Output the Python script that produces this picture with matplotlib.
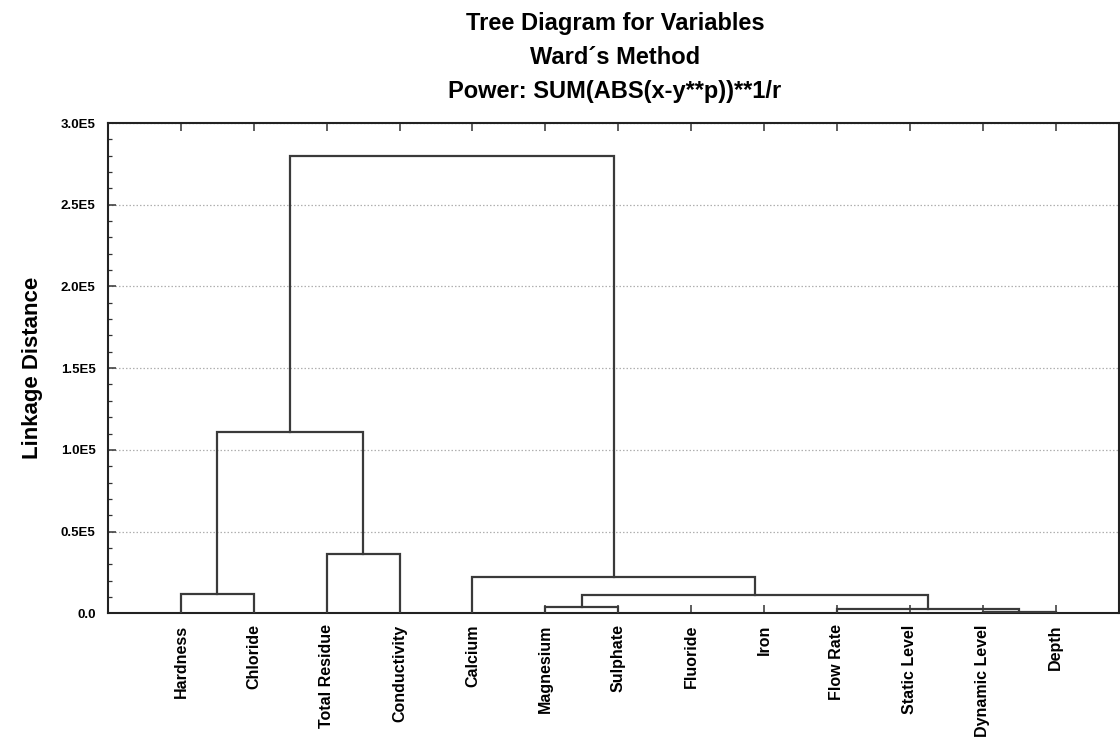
import matplotlib
matplotlib.use("Agg")
import matplotlib.pyplot as plt
from matplotlib.ticker import MultipleLocator, FixedLocator

# ---- data ----
leaves = ["Hardness", "Chloride", "Total Residue", "Conductivity", "Calcium",
          "Magnesium", "Sulphate", "Fluoride", "Iron", "Flow Rate",
          "Static Level", "Dynamic Level", "Depth"]
# merges: children are leaf names (str) or earlier merge indices (int)
merge_left = ["Hardness", "Total Residue", 0, "Magnesium", "Dynamic Level",
              "Flow Rate", 3, "Calcium", 2]
merge_right = ["Chloride", "Conductivity", 1, "Sulphate", "Depth",
               4, 5, 6, 7]
merge_height = [11600, 36300, 111200, 3800, 1100, 2600, 11000, 22500, 280000]

title_lines = ["Tree Diagram for Variables", "Ward\u00b4s Method",
               "Power: SUM(ABS(x-y**p))**1/r"]
ytick_vals = [0, 50000, 100000, 150000, 200000, 250000, 300000]
ytick_labels = ["0.0", "0.5E5", "1.0E5", "1.5E5", "2.0E5", "2.5E5", "3.0E5"]

# ---- figure ----
W, H = 1120, 747
fig = plt.figure(figsize=(W / 100, H / 100), dpi=100)
ax = fig.add_axes([108 / W, (H - 613.3) / H, (1119 - 108) / W, (613.3 - 123) / H])

line_col = "#3a3a3a"
leaf_pos = {name: i + 1 for i, name in enumerate(leaves)}
centers, heights = [], []


def child(c):
    if isinstance(c, str):
        return leaf_pos[c], 0.0
    return centers[c], heights[c]


for l, r, h in zip(merge_left, merge_right, merge_height):
    xl, hl = child(l)
    xr, hr = child(r)
    ax.plot([xl, xl, xr, xr], [hl, h, h, hr], color=line_col, lw=1.6,
            solid_joinstyle="miter", zorder=3)
    centers.append((xl + xr) / 2)
    heights.append(h)

ax.set_xlim(0, 13.87)
ax.set_ylim(0, 300000)

fam = ["Liberation Sans", "DejaVu Sans"]
ax.yaxis.set_major_locator(FixedLocator(ytick_vals))
ax.set_yticklabels(ytick_labels, fontsize=9.5, fontweight="bold", family=fam)
ax.yaxis.set_minor_locator(MultipleLocator(10000))
ax.set_xticks(range(1, len(leaves) + 1))
ax.set_xticklabels(leaves, rotation=90, fontsize=11.5, fontweight="bold",
                   va="top", ha="center", family=fam)

ax.tick_params(axis="both", which="major", direction="in", length=6,
               width=1.1, color="#333333", top=True, right=False)
ax.tick_params(axis="y", which="minor", direction="in", length=3,
               width=0.9, color="#333333")
ax.tick_params(axis="x", which="major", pad=8)
ax.tick_params(axis="y", which="major", pad=9)

ax.grid(axis="y", which="major", linestyle=(0, (1.2, 1.6)), color="#b0b0b0",
        lw=0.9, zorder=0)
for s in ax.spines.values():
    s.set_linewidth(1.5)
    s.set_color("#222222")

ax.set_ylabel("Linkage Distance", fontsize=16, fontweight="bold",
              family=fam, labelpad=13)

fig.text(615 / W, 1 - 12 / H, "\n".join(title_lines), ha="center", va="top",
         fontsize=17, fontweight="bold", linespacing=1.62, family=fam)

fig.savefig("out.png", dpi=100)
